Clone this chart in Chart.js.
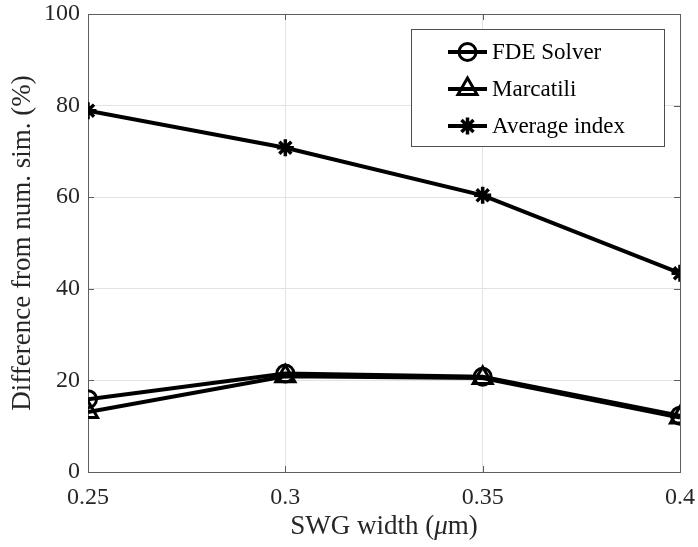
<!DOCTYPE html>
<html>
<head>
<meta charset="utf-8">
<script src="https://cdn.jsdelivr.net/npm/chart.js@4"></script>
<style>
  html, body { margin: 0; padding: 0; background: #ffffff; }
  #wrap { width: 698px; height: 547px; }
</style>
</head>
<body>
<div id="wrap"><canvas id="c" width="698" height="547"></canvas></div>
<script>
// SWG width sweep (µm) and the percentage difference of each model from numerical simulation
const swgWidths = [0.25, 0.3, 0.35, 0.4];
const fdeSolver = [15.9, 21.5, 20.8, 12.3];
const marcatili = [13.1, 20.9, 20.5, 11.9];
const averageIndex = [78.9, 70.8, 60.4, 43.4];
const seriesLabels = ['FDE Solver', 'Marcatili', 'Average index'];
const seriesMarkers = ['circle', 'triangle', 'star'];
const xTickValues = [0.25, 0.3, 0.35, 0.4];
const yTickValues = [0, 20, 40, 60, 80, 100];
// x title pieces: plain, italic symbol, plain
const xTitleParts = ['SWG width (', 'μ', 'm)'];
const yTitle = 'Difference from num. sim. (%)';

const FONT = '"Liberation Serif", "Times New Roman", serif';
const TEXT = '#262626';
const AXIS = '#5e5e5e';

function pts(ys) { return swgWidths.map((x, i) => ({ x, y: ys[i] })); }

const markerRadius = { circle: 8.5, triangle: 11, star: 8.5 };
const markerStroke = { circle: 3, triangle: 3, star: 3.5 };
const seriesValues = [fdeSolver, marcatili, averageIndex];
const datasets = seriesValues.map((vals, i) => ({
  label: seriesLabels[i],
  data: pts(vals),
  borderColor: '#000',
  borderWidth: 4,
  pointStyle: seriesMarkers[i],
  pointRadius: markerRadius[seriesMarkers[i]],
  pointBorderWidth: markerStroke[seriesMarkers[i]],
  pointBorderColor: '#000',
  pointBackgroundColor: 'rgba(0,0,0,0)',
  pointHoverRadius: markerRadius[seriesMarkers[i]],
  tension: 0,
  fill: false,
  order: 3 - i
}));

// Box around the plot area with inward tick marks on all four sides, plus the x title
const axesBox = {
  id: 'axesBox',
  beforeDatasetsDraw(chart) {
    const { ctx, chartArea: a, scales } = chart;
    ctx.save();
    ctx.strokeStyle = AXIS;
    ctx.lineWidth = 1;
    ctx.beginPath();
    const tl = 6;
    xTickValues.forEach(v => {
      const x = Math.round(scales.x.getPixelForValue(v)) + 0.5;
      ctx.moveTo(x, a.bottom); ctx.lineTo(x, a.bottom - tl);
      ctx.moveTo(x, a.top); ctx.lineTo(x, a.top + tl);
    });
    yTickValues.forEach(v => {
      const y = Math.round(scales.y.getPixelForValue(v)) + 0.5;
      ctx.moveTo(a.left, y); ctx.lineTo(a.left + tl, y);
      ctx.moveTo(a.right, y); ctx.lineTo(a.right - tl, y);
    });
    ctx.stroke();
    ctx.strokeRect(Math.round(a.left) + 0.5, Math.round(a.top) + 0.5,
                   Math.round(a.right - a.left), Math.round(a.bottom - a.top));

    // x axis title with an italic mu
    const fonts = ['27px ' + FONT, 'italic 27px ' + FONT, '27px ' + FONT];
    const widths = xTitleParts.map((s, i) => { ctx.font = fonts[i]; return ctx.measureText(s).width; });
    const total = widths.reduce((p, w) => p + w, 0);
    let x = (a.left + a.right) / 2 - total / 2;
    ctx.fillStyle = TEXT;
    ctx.textBaseline = 'alphabetic';
    ctx.textAlign = 'left';
    xTitleParts.forEach((s, i) => {
      ctx.font = fonts[i];
      ctx.fillText(s, x, 534);
      x += widths[i];
    });
    ctx.restore();
  }
};

// Legend box in the upper right of the axes
const boxLegend = {
  id: 'boxLegend',
  afterDraw(chart) {
    const { ctx } = chart;
    const bx = 411, by = 29, bw = 253, bh = 117;
    ctx.save();
    ctx.fillStyle = '#fff';
    ctx.fillRect(bx, by, bw, bh);
    ctx.strokeStyle = '#4d4d4d';
    ctx.lineWidth = 1;
    ctx.strokeRect(bx + 0.5, by + 0.5, bw, bh);
    chart.data.datasets.forEach((ds, i) => {
      const cy = 52 + i * 37;
      ctx.strokeStyle = '#000';
      ctx.lineWidth = 4;
      ctx.beginPath();
      ctx.moveTo(448, cy); ctx.lineTo(487, cy);
      ctx.stroke();
      ctx.lineWidth = ds.pointBorderWidth;
      ctx.fillStyle = 'rgba(0,0,0,0)';
      Chart.helpers.drawPoint(ctx, { pointStyle: ds.pointStyle, radius: ds.pointRadius, rotation: 0, borderWidth: ds.pointBorderWidth }, 467.5, cy);
      ctx.fillStyle = '#000';
      ctx.font = '23px ' + FONT;
      ctx.textBaseline = 'middle';
      ctx.textAlign = 'left';
      ctx.fillText(ds.label, 492, cy + 1);
    });
    ctx.restore();
  }
};

new Chart(document.getElementById('c'), {
  type: 'line',
  data: { datasets },
  options: {
    responsive: false,
    devicePixelRatio: 1,
    animation: false,
    layout: { padding: { top: 12, right: 18, left: 0, bottom: 0 } },
    plugins: { legend: { display: false }, tooltip: { enabled: false } },
    scales: {
      x: {
        type: 'linear',
        min: 0.25, max: 0.4,
        afterBuildTicks(scale) { scale.ticks = xTickValues.map(v => ({ value: v })); },
        afterFit(scale) { scale.height = 75; },
        ticks: {
          callback: v => String(+v.toFixed(2)),
          color: TEXT, font: { family: FONT, size: 24 }, padding: 0, maxRotation: 0
        },
        grid: { color: '#e3e3e3', lineWidth: 1, drawTicks: true, tickLength: 11, tickColor: 'rgba(0,0,0,0)' },
        border: { display: false },
        title: { display: false }
      },
      y: {
        type: 'linear',
        min: 0, max: 100,
        afterBuildTicks(scale) { scale.ticks = yTickValues.map(v => ({ value: v })); },
        afterFit(scale) { scale.width = 88; },
        ticks: { color: TEXT, font: { family: FONT, size: 24, lineHeight: 1 }, padding: 0 },
        grid: { color: '#e3e3e3', lineWidth: 1, drawTicks: true, tickLength: 8, tickColor: 'rgba(0,0,0,0)' },
        border: { display: false },
        title: { display: true, text: yTitle, color: TEXT, font: { family: FONT, size: 27 }, padding: { top: 7, bottom: 0 } }
      }
    }
  },
  plugins: [axesBox, boxLegend]
});
</script>
</body>
</html>
